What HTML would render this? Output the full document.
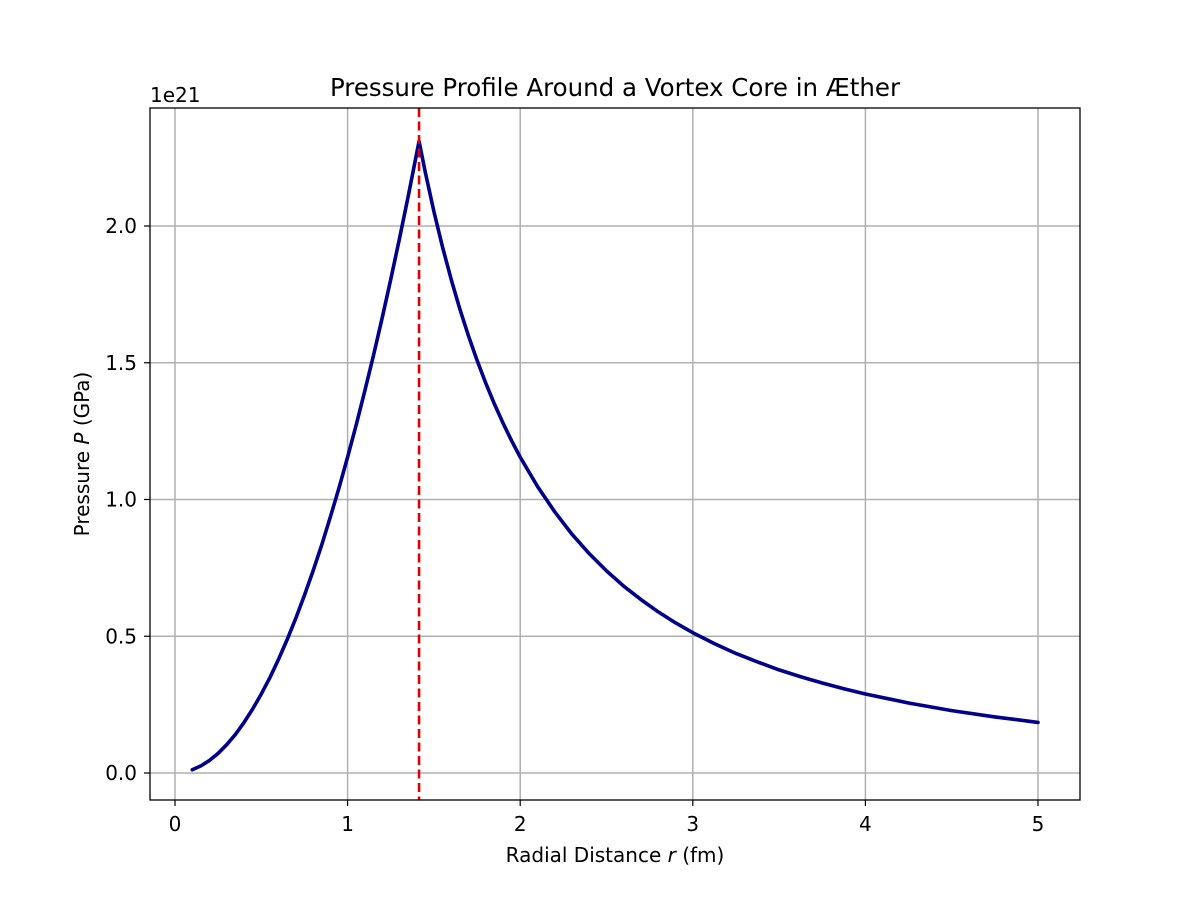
<!DOCTYPE html>
<html><head><meta charset="utf-8"><style>body{margin:0;background:#fff}svg{display:block;font-family:"DejaVu Sans","Liberation Sans",sans-serif}</style></head>
<body>
<svg id="chart" width="1200" height="900" xmlns="http://www.w3.org/2000/svg">
<rect width="1200" height="900" fill="#fff"/>
<g id="grid"></g><g id="marks"></g><g id="axes"></g>
<text x="615" y="96" font-size="24.5" text-anchor="middle">Pressure Profile Around a Vortex Core in Æther</text>
<text x="150" y="102" font-size="20">1e21</text>
<text x="615" y="862" font-size="20" text-anchor="middle">Radial Distance <tspan font-style="italic">r</tspan> (fm)</text>
<text transform="translate(89,454) rotate(-90)" font-size="20" text-anchor="middle">Pressure <tspan font-style="italic">P</tspan> (GPa)</text>
</svg>
<script>
const radii=[0.1,0.15,0.2,0.25,0.3,0.35,0.4,0.45,0.5,0.55,0.6,0.65,0.7,0.75,0.8,0.85,0.9,0.95,1.0,1.05,1.1,1.15,1.2,1.25,1.3,1.35,1.414,1.45,1.5,1.55,1.6,1.65,1.7,1.75,1.8,1.85,1.9,1.95,2.0,2.1,2.2,2.3,2.4,2.5,2.6,2.7,2.8,2.9,3.0,3.125,3.25,3.375,3.5,3.625,3.75,3.875,4.0,4.25,4.5,4.75,5.0];
const pressure=[0.012,0.026,0.046,0.072,0.104,0.141,0.185,0.234,0.289,0.349,0.416,0.488,0.566,0.650,0.739,0.834,0.936,1.042,1.155,1.273,1.398,1.527,1.663,1.805,1.952,2.105,2.31,2.197,2.053,1.923,1.805,1.697,1.599,1.509,1.426,1.350,1.280,1.215,1.155,1.048,0.955,0.873,0.802,0.739,0.683,0.634,0.589,0.549,0.513,0.473,0.437,0.406,0.377,0.352,0.329,0.308,0.289,0.256,0.228,0.205,0.185];
const coreRadius=[1.414];
const xTicks=[0,1,2,3,4,5];
const yTicks=[0,0.5,1.0,1.5,2.0];
const yTickLabels=["0.0","0.5","1.0","1.5","2.0"];
const L=150,R=1080,T=108,B=800;
const xs=v=>175+v*172.6;
const ys=v=>773-v*273.5;
const NS="http://www.w3.org/2000/svg";
function mk(tag,attrs,parent){const e=document.createElementNS(NS,tag);for(const k in attrs)e.setAttribute(k,attrs[k]);parent.appendChild(e);return e;}
const grid=document.getElementById('grid'),marks=document.getElementById('marks'),axes=document.getElementById('axes');
xTicks.forEach(t=>{
  const g=mk('line',{x1:xs(t),x2:xs(t),y1:T,y2:B,stroke:'#b0b0b0','stroke-width':1.5},grid);
  
  
  const k=mk('line',{x1:xs(t),x2:xs(t),y1:B,y2:B+6,stroke:'#000','stroke-width':1.2},axes);
  
  
  const l=mk('text',{x:xs(t),y:B+31,'font-size':20,'text-anchor':'middle'},axes);l.textContent=t;
  
  
});
yTicks.forEach((t,i)=>{
  const g=mk('line',{x1:L,x2:R,y1:ys(t),y2:ys(t),stroke:'#b0b0b0','stroke-width':1.5},grid);
  
  
  const k=mk('line',{x1:L-6,x2:L,y1:ys(t),y2:ys(t),stroke:'#000','stroke-width':1.2},axes);
  
  
  const l=mk('text',{x:L-13,y:ys(t)+7,'font-size':20,'text-anchor':'end'},axes);l.textContent=yTickLabels[i];
  
  
});
const line=mk('polyline',{points:radii.map((r,i)=>xs(r)+','+ys(pressure[i])).join(' '),fill:'none',stroke:'#00008b','stroke-width':3.6,'stroke-linejoin':'round','stroke-linecap':'round'},marks);


const core=mk('line',{x1:xs(coreRadius[0]),x2:xs(coreRadius[0]),y1:T,y2:B,stroke:'#e00000','stroke-width':2.6,'stroke-dasharray':'9,4.5'},marks);


const frame=mk('rect',{x:L,y:T,width:R-L,height:B-T,fill:'none',stroke:'#000','stroke-width':1.3},axes);


</script>
</body></html>
